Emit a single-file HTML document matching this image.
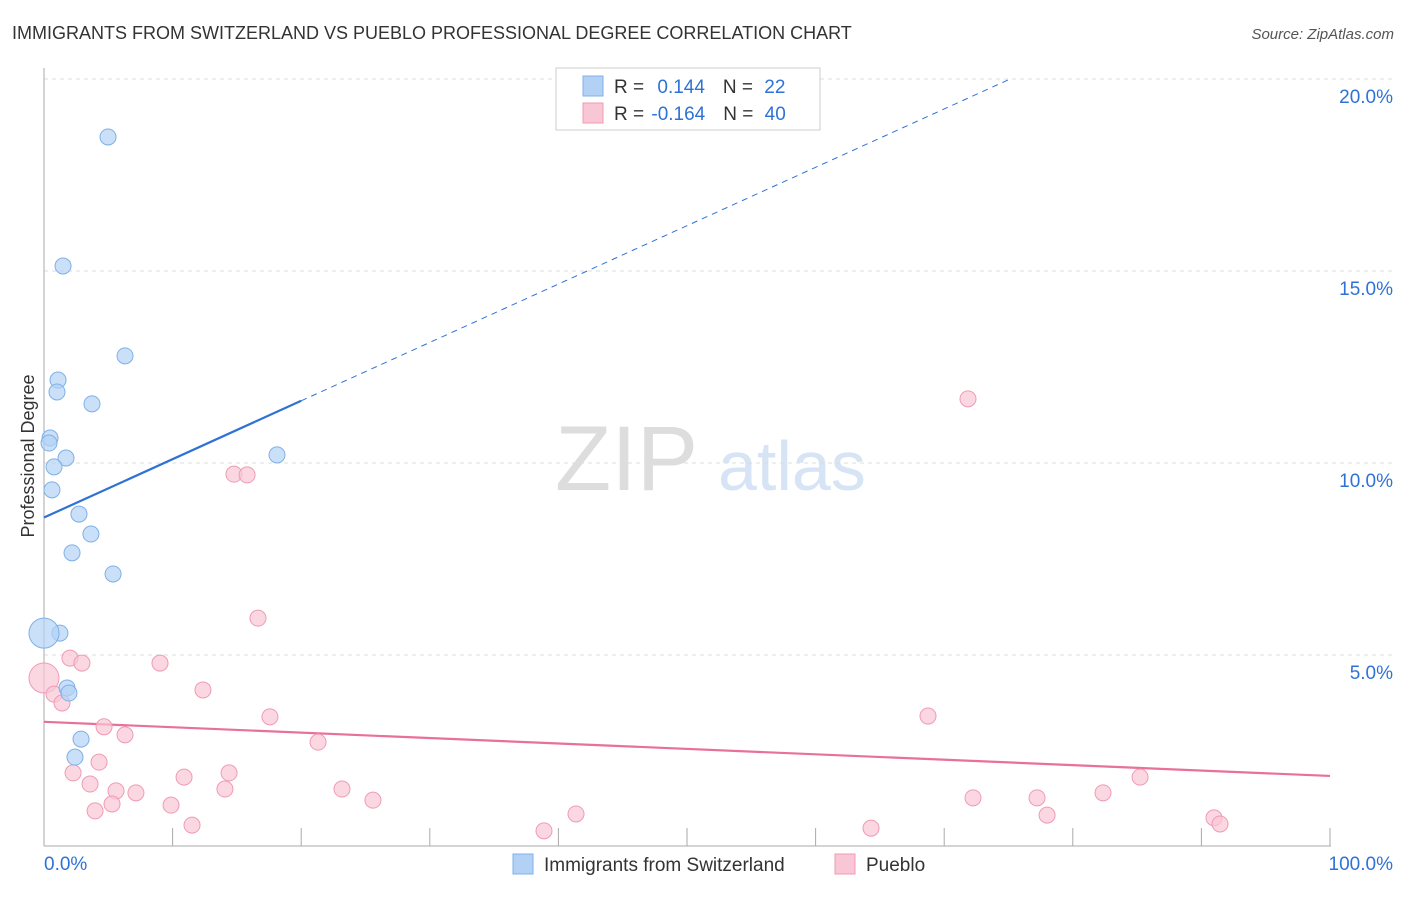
<!DOCTYPE html>
<html><head><meta charset="utf-8"><style>
body{margin:0;background:#fff;font-family:"Liberation Sans",sans-serif;}
svg text{font-family:"Liberation Sans",sans-serif;}
</style></head><body>
<svg id="chart" width="1406" height="892">
<text x="12" y="39" font-size="18" fill="#333">IMMIGRANTS FROM SWITZERLAND VS PUEBLO PROFESSIONAL DEGREE CORRELATION CHART</text>
<text x="1394" y="39" font-size="15" fill="#555" text-anchor="end" font-style="italic">Source: ZipAtlas.com</text>
<text x="34" y="456" font-size="18" fill="#333" text-anchor="middle" transform="rotate(-90 34 456)">Professional Degree</text>
<g><text x="555" y="490" font-size="92" fill="#ddd" font-family="Liberation Serif">ZIP</text><text x="718" y="490" font-size="70" fill="#d6e4f5">atlas</text></g>
<g id="grid"></g><g id="axes"></g><g id="lines"></g><g id="pts"></g>
<g>
<rect x="556" y="68" width="264" height="62" fill="#fff" stroke="#ccc"/>
<rect x="583" y="76" width="20" height="20" fill="#b3d1f5" stroke="#7fb0e8"/>
<rect x="583" y="103" width="20" height="20" fill="#f9c6d6" stroke="#f09ab7"/>
<text x="614" y="93" font-size="19" fill="#333">R = <tspan fill="#2f72d6" dx="8">0.144</tspan><tspan fill="#333" dx="18">N = </tspan><tspan fill="#2f72d6" dx="6">22</tspan></text>
<text x="614" y="120" font-size="19" fill="#333">R = <tspan fill="#2f72d6" dx="2">-0.164</tspan><tspan fill="#333" dx="18">N = </tspan><tspan fill="#2f72d6" dx="6">40</tspan></text>
</g>
<g>
<rect x="513" y="854" width="20" height="20" fill="#b3d1f5" stroke="#7fb0e8"/>
<text x="544" y="871" font-size="19" fill="#333">Immigrants from Switzerland</text>
<rect x="835" y="854" width="20" height="20" fill="#f9c6d6" stroke="#f09ab7"/>
<text x="866" y="871" font-size="19" fill="#333">Pueblo</text>
</g>
</svg>
<script>
const yTicks=[5,10,15,20];
const yTickLabels=["5.0%","10.0%","15.0%","20.0%"];
const xTickCount=10;
const blueX=[4.98,1.48,6.30,1.09,1.01,3.73,0.47,0.39,1.71,18.12,0.78,0.62,2.72,3.65,2.18,5.37,1.24,0,1.79,1.94,2.88,2.41];
const blueY=[18.49,15.13,12.79,12.16,11.85,11.54,10.65,10.52,10.13,10.21,9.90,9.30,8.67,8.15,7.66,7.11,5.57,5.57,4.14,4.01,2.81,2.34];
const blueBig=[17];
const pinkX=[71.85,14.77,15.79,16.64,2.02,2.95,9.02,0,0.78,1.40,12.36,17.57,4.67,6.30,21.31,68.74,4.28,2.26,10.89,14.39,3.58,5.60,7.15,14.07,23.17,85.23,82.35,72.24,77.22,25.58,9.88,5.29,3.97,11.51,41.37,78.00,38.88,64.31,90.98,91.45];
const pinkY=[11.67,9.71,9.69,5.96,4.92,4.79,4.79,4.40,3.98,3.75,4.09,3.39,3.13,2.92,2.73,3.41,2.21,1.93,1.82,1.93,1.64,1.46,1.41,1.51,1.51,1.82,1.41,1.28,1.28,1.22,1.09,1.12,0.94,0.57,0.86,0.83,0.42,0.49,0.76,0.60];
const pinkBig=[7];
const blueTrend=[8.58,0.152];
const pinkTrend=[3.26,-0.0141];
const X=v=>44+v*12.86, Y=v=>847-v*38.4;
const NS="http://www.w3.org/2000/svg";
function mk(p,t,a){const e=document.createElementNS(NS,t);for(const k in a)e.setAttribute(k,a[k]);p.appendChild(e);return e;}
const g=document.getElementById('grid'),ax=document.getElementById('axes'),ln=document.getElementById('lines'),pts=document.getElementById('pts');
yTicks.forEach((t,i)=>{
 const l=mk(g,'line',{x1:44,x2:1394,y1:Y(t),y2:Y(t),stroke:'#ddd','stroke-dasharray':'4,4'});
 
 
 const tx=mk(g,'text',{x:1393,y:Y(t)+24,'font-size':19,fill:'#2f72d6','text-anchor':'end'});tx.textContent=yTickLabels[i];
 
 
});
const ya=mk(ax,'line',{x1:44,x2:44,y1:68,y2:846,stroke:'#aaa'});


const xa=mk(ax,'line',{x1:44,x2:1331,y1:846,y2:846,stroke:'#aaa'});


for(let i=0;i<=xTickCount;i++){const v=i*100/xTickCount;const t=mk(ax,'line',{x1:X(v),x2:X(v),y1:828,y2:846,stroke:'#aaa'});
 
 }
const xl0=mk(ax,'text',{x:44,y:870,'font-size':19,fill:'#2f72d6'});xl0.textContent="0.0%";


const xl1=mk(ax,'text',{x:1393,y:870,'font-size':19,fill:'#2f72d6','text-anchor':'end'});xl1.textContent="100.0%";


const bs=mk(ln,'line',{x1:X(0),y1:Y(blueTrend[0]),x2:X(20),y2:Y(blueTrend[0]+20*blueTrend[1]),stroke:'#2f72d6','stroke-width':2.2});


const xe=(20-blueTrend[0])/blueTrend[1];
const bd=mk(ln,'line',{x1:X(20),y1:Y(blueTrend[0]+20*blueTrend[1]),x2:X(xe),y2:Y(20),stroke:'#2f72d6','stroke-width':1,'stroke-dasharray':'6,5'});


const pl=mk(ln,'line',{x1:X(0),y1:Y(pinkTrend[0]),x2:X(100),y2:Y(pinkTrend[0]+100*pinkTrend[1]),stroke:'#e8709a','stroke-width':2.2});


pinkX.forEach((x,i)=>{const c=mk(pts,'circle',{cx:X(x),cy:Y(pinkY[i]),r:pinkBig.includes(i)?15:8,fill:'#f9c6d6','fill-opacity':0.7,stroke:'#f09ab7'});
 
 });
blueX.forEach((x,i)=>{const c=mk(pts,'circle',{cx:X(x),cy:Y(blueY[i]),r:blueBig.includes(i)?15:8,fill:'#b3d1f5','fill-opacity':0.7,stroke:'#7fb0e8'});
 
 });
</script>
</body></html>
